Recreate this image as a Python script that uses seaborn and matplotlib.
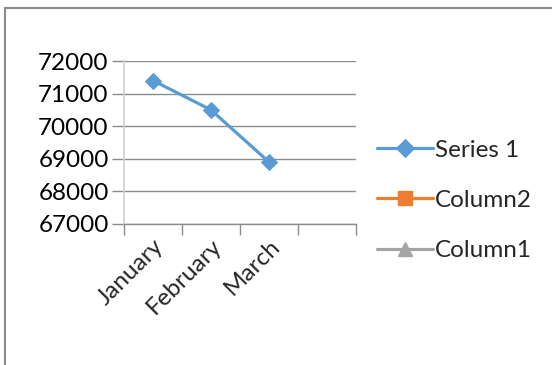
import numpy as np
import matplotlib
matplotlib.use("Agg")
import matplotlib.pyplot as plt
from matplotlib.lines import Line2D
import seaborn as sns

# Monthly values; the fourth slot on the category axis is left empty
months = ["January", "February", "March", ""]
series1 = [71400, 70500, 68900, np.nan]
column2 = [np.nan, np.nan, np.nan, np.nan]
column1 = [np.nan, np.nan, np.nan, np.nan]
y_ticks = [67000, 68000, 69000, 70000, 71000, 72000]

sns.set_theme(style="white")
plt.rcParams["font.family"] = ["Lato", "DejaVu Sans"]

fig = plt.figure(figsize=(5.52, 3.65), dpi=100)
ax = fig.add_axes([124 / 552, 1 - 224 / 365, 232 / 552, 163 / 365])

pos = np.arange(len(months))
blue, orange, grey = "#5B9BD5", "#ED7D31", "#A5A5A5"
fs = 17.5

sns.lineplot(x=pos, y=series1, ax=ax, color=blue, lw=2.3, marker="D",
             markersize=8, markeredgecolor=blue, label="Series 1", legend=False)
ax.plot(pos, column2, color=orange, lw=2.3, marker="s", markersize=8, label="Column2")
ax.plot(pos, column1, color=grey, lw=2.3, marker="^", markersize=8, label="Column1")

ax.set_xlim(-0.5, len(months) - 0.5)
ax.set_ylim(y_ticks[0], y_ticks[-1])
ax.set_yticks(y_ticks)
ax.set_yticklabels([str(v) for v in y_ticks], fontsize=fs)
ax.yaxis.grid(True, color="#8C8C8C", lw=1)
ax.set_axisbelow(True)

# category boundaries get the tick marks, labels sit at the centres
ax.set_xticks(np.arange(-0.5, len(months)), minor=False)
ax.set_xticklabels([])
ax.set_xticks(pos, minor=True)
ax.set_xticklabels(months, minor=True, rotation=45, ha="right",
                   rotation_mode="anchor", fontsize=fs)
ax.tick_params(axis="x", which="major", direction="out", length=8, width=1,
               color="#8C8C8C", bottom=True)
ax.tick_params(axis="x", which="minor", length=0, pad=8)
ax.tick_params(axis="y", direction="out", length=9, width=1, color="#8C8C8C",
               left=True, pad=2, labelcolor="black")

for side in ("top", "right"):
    ax.spines[side].set_visible(False)
ax.spines["left"].set_color("#D0D0D0")
ax.spines["left"].set_linewidth(1.2)
ax.spines["bottom"].set_color("#8C8C8C")
ax.spines["bottom"].set_linewidth(1)

fig.legend(loc="upper left", bbox_to_anchor=(367 / 552, 1 - 130 / 365),
           frameon=False, fontsize=fs, handlelength=2.3, handletextpad=0.1,
           labelspacing=1.2, borderaxespad=0, markerscale=1.2)

# chart border running off the right and bottom edges
fig.add_artist(Line2D([5.5 / 552, 5.5 / 552], [0, 1 - 7.5 / 365], color="#8A8A8A",
                      lw=1.5, transform=fig.transFigure))
fig.add_artist(Line2D([5.5 / 552, 1], [1 - 7.5 / 365, 1 - 7.5 / 365], color="#8A8A8A",
                      lw=1.5, transform=fig.transFigure))

fig.savefig("out.png", dpi=100, facecolor="white")
